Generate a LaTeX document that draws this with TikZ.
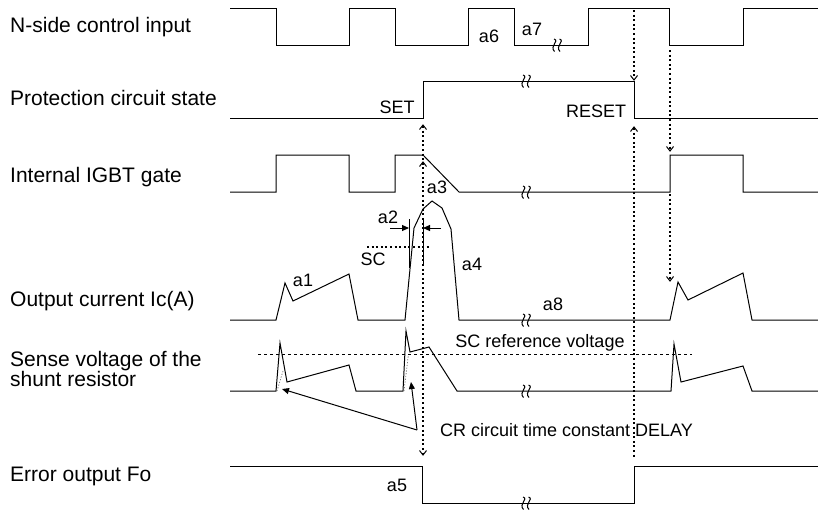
\documentclass[tikz,border=0pt]{standalone}
\usepackage{fontspec}
\setmainfont{Liberation Sans}
\usetikzlibrary{arrows.meta}
\begin{document}
\begin{tikzpicture}[x=1pt,y=-1pt,
  sig/.style={line width=1pt, line join=miter},
  vdot/.style={line width=1.6pt, dash pattern=on 2pt off 2.6pt},
  hdot/.style={line width=1.4pt, dash pattern=on 2pt off 2.6pt},
  refline/.style={line width=0.8pt, dash pattern=on 3pt off 3pt},
  thindot/.style={line width=0.8pt, gray, dash pattern=on 1.2pt off 1.6pt},
  rowlab/.style={font=\fontsize{21}{23}\selectfont, anchor=base west, inner sep=0},
  ann/.style={font=\fontsize{18}{20}\selectfont, anchor=base, inner sep=0},
  farr/.style={line width=1pt, -{Triangle[length=7pt,width=6pt]}},
  brk/.pic={
    \draw[line width=1pt] (-3,-6) .. controls (3,-4) and (-8,1) .. (-2.5,6.5);
    \draw[line width=1pt] (2.5,-6) .. controls (8.5,-4) and (-2.5,1) .. (3,6.5);
  },
  chup/.pic={\draw[line width=1pt] (-3.5,4.5) -- (0,0) -- (3.5,4.5);},
  chdn/.pic={\draw[line width=1pt] (-3.5,-4.5) -- (0,0) -- (3.5,-4.5);}
]
\useasboundingbox (0,0) rectangle (818,509);

% row labels
\node[rowlab] (l1) at (10,32) {N-side control input};
\node[rowlab] (l2) at (10,105) {Protection circuit state};
\node[rowlab] (l3) at (10,182) {Internal IGBT gate};
\node[rowlab] (l4) at (10,306.5) {Output current Ic(A)};
\node[rowlab] (l5a) at (10,366) {Sense voltage of the};
\node[rowlab] (l5b) at (10,386) {shunt resistor};
\node[rowlab] (l6) at (10,481) {Error output Fo};

% row 1: N-side control input
\draw[sig] (230,8.5) -- (276,8.5) -- (276,45) -- (349,45) -- (349,8.5) -- (395,8.5) -- (395,45)
  -- (468,45) -- (468,8.5) -- (514,8.5) -- (514,45) -- (588,45) -- (588,8.5) -- (669,8.5)
  -- (669,45) -- (743,45) -- (743,8.5) -- (818,8.5);
\pic at (557,45) {brk};

% row 2: protection circuit state
\draw[sig] (230,118) -- (423,118) -- (423,81) -- (634,81) -- (634,118) -- (818,118);
\pic at (526,81) {brk};

% row 3: internal IGBT gate
\draw[sig] (230,192) -- (276,192) -- (276,155) -- (349,155) -- (349,192) -- (395,192) -- (395,155)
  -- (423,155) -- (459,192) -- (670,192) -- (670,155) -- (743,155) -- (743,192) -- (818,192);
\pic at (526,192) {brk};

% row 4: output current
\draw[sig] (230,320) -- (276,320) -- (285,283) -- (293,301) -- (349,274) -- (358,320) -- (405,320)
  -- (414,228) -- (423,209) -- (432,201) -- (442,208) -- (451,229) -- (459,320) -- (670,320)
  -- (678,282) -- (688,300) -- (743,273) -- (752,320) -- (818,320);
\pic at (526,320) {brk};

% row 5: sense voltage
\draw[sig] (230,391) -- (276,391) -- (280,343) -- (287,382) -- (349,365) -- (356,391) -- (403,391)
  -- (406,331) -- (410,352) -- (429,347) -- (457,391) -- (671,391) -- (674,344) -- (681,382)
  -- (743,366) -- (752,391) -- (818,391);
\pic at (526,391) {brk};
\draw[thindot] (277,391) -- (283,371);
\draw[thindot] (404,391) -- (408.5,354);
\draw[refline] (258,354) -- (692,354);

% row 6: error output
\draw[sig] (230,466) -- (422,466) -- (422,503) -- (634,503) -- (634,466) -- (818,466);
\pic at (526,503) {brk};

% a2 markers and SC level
\draw[hdot] (367,247) -- (430,247);
\draw[line width=1pt] (409,219) -- (409,268);
\draw[line width=1pt] (423,219) -- (423,265);
\coordinate (a2l) at (390,228);
\coordinate (a2lt) at (409,228);
\coordinate (a2r) at (441,228);
\coordinate (a2rt) at (423,228);
\draw[farr] (a2l) -- (a2lt);
\draw[farr] (a2r) -- (a2rt);

% vertical dotted lines
\draw[vdot] (423,126) -- (423,454);
\pic at (423,125) {chup};
\pic at (423,162) {chup};
\pic at (423,455) {chdn};

\draw[vdot] (634,10) -- (634,79);
\pic at (634,80) {chdn};
\draw[vdot] (634,128) -- (634,458);
\pic at (634,127) {chup};

\draw[vdot] (670,50) -- (670,150);
\pic at (670,151) {chdn};
\draw[vdot] (670,194) -- (670,280);
\pic at (670,281) {chdn};

% CR arrows
\coordinate (cr) at (417,430);
\coordinate (sp1) at (282,389);
\coordinate (sp2) at (411,382);
\draw[farr] (cr) -- (sp1);
\draw[farr] (cr) -- (sp2);

% annotations
\node[ann] (ta1) at (303,286) {a1};
\node[ann] (ta2) at (388,223) {a2};
\node[ann] (ta3) at (437,193) {a3};
\node[ann] (ta4) at (472,270) {a4};
\node[ann] (ta5) at (397,491) {a5};
\node[ann] (ta6) at (489,42) {a6};
\node[ann] (ta7) at (532,35) {a7};
\node[ann] (ta8) at (553,310) {a8};
\node[ann] (tsc) at (373,265) {SC};
\node[ann] (tset) at (397,113) {SET};
\node[ann] (treset) at (596,117) {RESET};
\node[ann] (tref) at (540,347) {SC reference voltage};
\node[ann] (tcr) at (566.5,436) {CR circuit time constant DELAY};
\end{tikzpicture}
\end{document}
